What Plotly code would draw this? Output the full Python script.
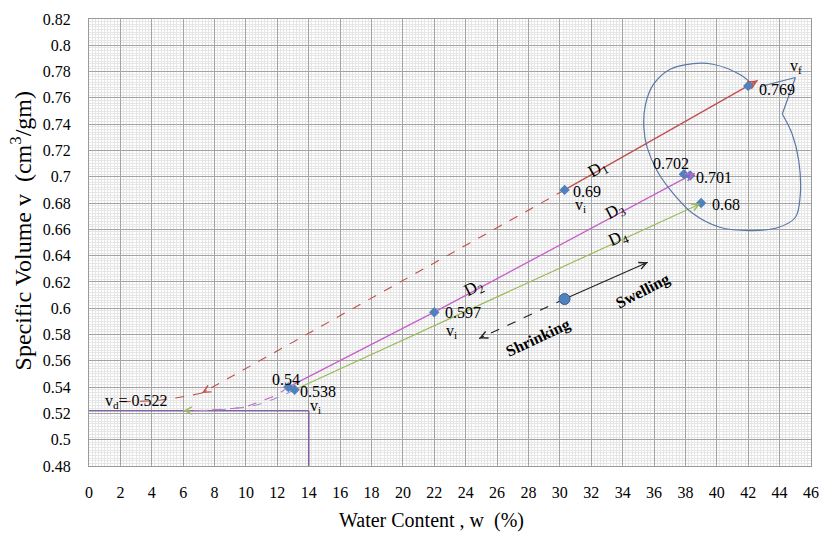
import math
import plotly.graph_objects as go

# ---------------- axis ticks ----------------
x_ticks = list(range(0, 47, 2))
y_ticks = [round(0.48 + 0.02 * i, 2) for i in range(18)]
y_ticklabels = [f"{v:g}" for v in y_ticks]

# ---------------- measured states (w %, v cm3/gm) ----------------
pt_w = [12.7, 13.1, 22.0, 30.3, 37.9, 38.3, 39.0, 42.0]
pt_v = [0.540, 0.538, 0.597, 0.690, 0.702, 0.701, 0.680, 0.769]
# label offsets (dw, dv) relative to each point
pt_lab_off = [(-0.15, 0.0058), (1.5, -0.0010), (1.85, -0.0004), (1.4, -0.0012),
              (-0.8, 0.0082), (1.5, -0.0014), (1.6, -0.0008), (1.85, -0.0024)]

# D1 : swelling path and its shrinkage return
d1_w = [30.3, 42.0, 42.6]
d1_v = [0.690, 0.769, 0.7733]
d1_shrink_w = [30.3, 7.2]
d1_shrink_v = [0.690, 0.5355]
d1_tail_w = [7.2, 4.6, 1.7]
d1_tail_v = [0.5355, 0.5302, 0.5289]

# D2 / D3 : swelling path (through 0.597 to 0.701)
d3_w = [12.7, 22.0, 38.3, 38.6]
d3_v = [0.540, 0.597, 0.701, 0.7026]
d3_shrink_w = [12.7, 12.0, 11.0, 9.9, 8.0, 6.0]
d3_shrink_v = [0.540, 0.5345, 0.5295, 0.5250, 0.5228, 0.5220]

# D4 : swelling path and shrinkage return
d4_w = [13.1, 38.95]
d4_v = [0.538, 0.6795]
d4_shrink_w = [13.1, 12.2, 10.6, 8.3, 6.0]
d4_shrink_v = [0.538, 0.5330, 0.5262, 0.5228, 0.5220]

# shrinkage limit v_d = 0.522 at w = 14 %
vd = 0.522
wd = 14.0
axis_w0 = 0.0
axis_v0 = 0.48

# swelling / shrinking direction indicator
dir_w = [30.3]
dir_v = [0.607]
swell_w = [30.3, 35.6]
swell_v = [0.607, 0.635]
shrink_w = [30.3, 24.85]
shrink_v = [0.607, 0.577]

# outline around the final states
loop_w = [42.3, 41.44, 39.76, 38.50, 37.03, 35.97, 35.46, 35.35, 35.56, 36.19, 37.24,
          38.50, 40.18, 42.28, 43.96, 45.01, 45.32, 45.22, 44.80, 44.17]
loop_v = [0.7700, 0.7780, 0.7856, 0.7861, 0.7818, 0.7704, 0.7553, 0.7375, 0.7223, 0.7046,
          0.6870, 0.6718, 0.6616, 0.6591, 0.6616, 0.6692, 0.6870, 0.7122, 0.7325, 0.7477]
tail_w = [44.17, 45.01, 42.75]
tail_v = [0.7477, 0.7755, 0.7685]

RED = "#C0504D"
MAG = "#C95FC9"
GRN = "#9BBB59"
PUR = "#8064A2"
BLUE = "#4F81BD"
LOOP = "#5A78A6"
FONT = "Liberation Serif, Times New Roman, serif"

# plot-area scale (px per data unit) used to orient arrowheads
W_RANGE = (0, 46)
V_RANGE = (0.48, 0.82)
PX_W = 730 / (W_RANGE[1] - W_RANGE[0])
PX_V = 448 / (V_RANGE[1] - V_RANGE[0])

fig = go.Figure()


def line(w, v, color, width=1.3, dash="solid", shape="linear"):
    fig.add_trace(go.Scatter(x=w, y=v, mode="lines", hoverinfo="skip",
                             line=dict(color=color, width=width, dash=dash, shape=shape)))


def head(w, v, color, width=1.2, size=1.3, shaft_px=7):
    # arrowhead at the last point of a path, aligned with its final segment
    dx = (w[-1] - w[-2]) * PX_W
    dy = (v[-1] - v[-2]) * PX_V
    n = math.hypot(dx, dy)
    tw = w[-1] - dx / n * shaft_px / PX_W
    tv = v[-1] - dy / n * shaft_px / PX_V
    fig.add_annotation(x=w[-1], y=v[-1], ax=tw, ay=tv, xref="x", yref="y",
                       axref="x", ayref="y", text="", showarrow=True, arrowhead=5,
                       arrowsize=size, arrowwidth=width, arrowcolor=color, standoff=0)


# shrinkage limit lines
line([axis_w0, wd], [vd, vd], PUR, 1.6)
line([wd, wd], [axis_v0, vd], PUR, 1.6)

# return (shrinkage) curves
line(d1_shrink_w, d1_shrink_v, RED, 1.1, "dash")
line(d1_tail_w, d1_tail_v, RED, 1.1, "dash", "spline")
line(d3_shrink_w, d3_shrink_v, MAG, 1.1, "dash", "spline")
line(d4_shrink_w, d4_shrink_v, "#A58FC4", 1.1, "dash", "spline")

# swelling paths
line(d1_w, d1_v, RED, 1.3)
line(d3_w, d3_v, MAG, 1.3)
line(d4_w, d4_v, GRN, 1.2)

# outline around final states
line(loop_w, loop_v, LOOP, 1.2, shape="spline")
line(tail_w, tail_v, LOOP, 1.2)

# direction indicator
line(swell_w, swell_v, "#222222", 1.1)
line(shrink_w, shrink_v, "#222222", 1.1, "dash")
fig.add_trace(go.Scatter(x=dir_w, y=dir_v, mode="markers", hoverinfo="skip",
                         marker=dict(symbol="circle", size=11, color=BLUE,
                                     line=dict(color="#385D8A", width=1))))

# measured points
fig.add_trace(go.Scatter(x=pt_w, y=pt_v, mode="markers", hoverinfo="skip",
                         marker=dict(symbol="diamond", size=8, color=BLUE)))

# arrowheads
head(d1_w, d1_v, RED)
head(d3_w, d3_v, MAG)
head(d4_w, d4_v, GRN, 1.1)
head(d1_shrink_w, d1_shrink_v, RED, 1.1)
head(d4_shrink_w, d4_shrink_v, GRN, 1.1)
head(swell_w, swell_v, "#222222", 1.1)
head(shrink_w, shrink_v, "#222222", 1.1)

# value labels for measured points
for w, v, (dw, dv) in zip(pt_w, pt_v, pt_lab_off):
    fig.add_annotation(x=w + dw, y=v + dv, text=f"{v:g}", showarrow=False,
                       font=dict(family=FONT, size=16, color="black"))


def note(w, v, text, size=16, angle=0, bold=False):
    fig.add_annotation(x=w, y=v, text=f"<b>{text}</b>" if bold else text, showarrow=False,
                       textangle=angle, font=dict(family=FONT, size=size, color="black"))


note(32.4, 0.7050, "D<sub>1</sub>", 17, -29)
note(24.5, 0.6145, "D<sub>2</sub>", 17, -27)
note(33.5, 0.6735, "D<sub>3</sub>", 17, -27)
note(33.7, 0.6530, "D<sub>4</sub>", 17, -24)
note(31.3, 0.6782, "v<sub>i</sub>", 16)
note(23.1, 0.5822, "v<sub>i</sub>", 16)
note(14.45, 0.5255, "v<sub>i</sub>", 16)
note(45.05, 0.7840, "v<sub>f</sub>", 16)
note(3.0, 0.5290, f"v<sub>d</sub>= {vd:g}", 16)
note(35.3, 0.6130, "Swelling", 16, -27, True)
note(28.6, 0.5770, "Shrinking", 16, -25, True)

# axis titles
fig.add_annotation(xref="paper", yref="paper", x=-0.094, y=0.525, showarrow=False,
                   xanchor="center", yanchor="middle",
                   text="Specific Volume v  (cm<sup>3</sup>/gm)", textangle=-90,
                   font=dict(family=FONT, size=24, color="black"))
fig.add_annotation(xref="paper", yref="paper", x=0.475, y=-0.121, showarrow=False,
                   xanchor="center", yanchor="middle",
                   text="Water Content , w  (%)",
                   font=dict(family=FONT, size=20, color="black"))

fig.update_layout(
    width=830, height=536,
    margin=dict(l=89, r=11, t=18, b=70),
    paper_bgcolor="white", plot_bgcolor="white",
    showlegend=False,
    font=dict(family=FONT, color="black"),
)
fig.update_xaxes(
    range=list(W_RANGE), tickmode="array", tickvals=x_ticks,
    tickfont=dict(family=FONT, size=16, color="black"), ticks="",
    ticklabelstandoff=12,
    showgrid=True, gridcolor="#a3a3a3", gridwidth=1,
    minor=dict(tick0=0, dtick=0.2, showgrid=True, gridcolor="#e6e6e6", gridwidth=1),
    showline=True, linecolor="#9a9a9a", mirror=True, zeroline=False,
)
fig.update_yaxes(
    range=list(V_RANGE), tickmode="array", tickvals=y_ticks, ticktext=y_ticklabels,
    tickfont=dict(family=FONT, size=16, color="black"), ticks="",
    ticklabelstandoff=14,
    showgrid=True, gridcolor="#a3a3a3", gridwidth=1,
    minor=dict(tick0=0.48, dtick=0.002, showgrid=True, gridcolor="#e6e6e6", gridwidth=1),
    showline=True, linecolor="#9a9a9a", mirror=True, zeroline=False,
)

fig.write_html("out.html")
